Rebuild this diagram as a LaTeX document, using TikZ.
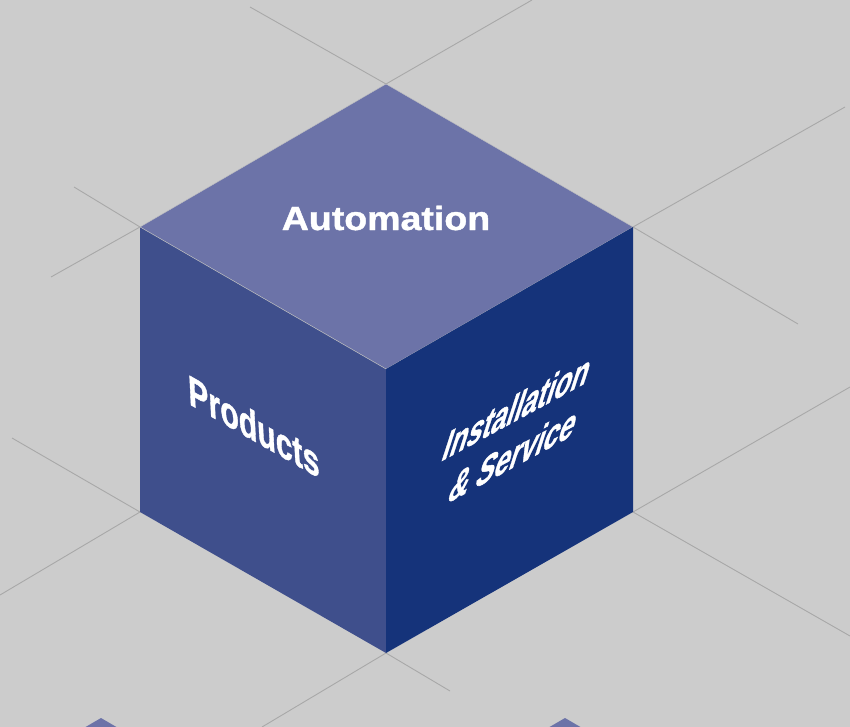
\documentclass[tikz,border=0pt]{standalone}
\usepackage{fontspec}
\setmainfont{Liberation Sans}[BoldFeatures={FakeBold=1.2}]
\definecolor{bg}{HTML}{CCCCCC}
\definecolor{topface}{HTML}{6C73A8}
\definecolor{leftface}{HTML}{3F4F8C}
\definecolor{rightface}{HTML}{15337A}
\definecolor{gridline}{HTML}{A8A8A8}
\begin{document}
\begin{tikzpicture}[x=1pt,y=-1pt,
  grid/.style={draw=gridline,line width=0.9pt},
  face/.style={draw=gridline!70!white,line width=0.4pt},
  facelabel/.style={text=white,inner sep=0pt,outer sep=0pt}]
\useasboundingbox (0,0) rectangle (850,727);
\clip (0,0) rectangle (850,727);
\fill[bg] (0,0) rectangle (850,727);
% cube vertices
\coordinate (T)  at (386,84);
\coordinate (LT) at (140,227);
\coordinate (RT) at (633,227);
\coordinate (C)  at (386,369);
\coordinate (LB) at (140,512);
\coordinate (RB) at (633,512);
\coordinate (B)  at (386,653);
% grid line ends
\coordinate (g1) at (250,7);
\coordinate (g2) at (532,0);
\coordinate (g3) at (74,187);
\coordinate (g4) at (51,277);
\coordinate (g5) at (845,107);
\coordinate (g6) at (798,324);
\coordinate (g7) at (12,438);
\coordinate (g8) at (0,595);
\coordinate (g9) at (850,387);
\coordinate (g10) at (850,636);
\coordinate (g11) at (262,727);
\coordinate (g12) at (450,691);
% grid lines
\draw[grid] (g1) -- (T) -- (g2);
\draw[grid] (g3) -- (LT) -- (g4);
\draw[grid] (g5) -- (RT) -- (g6);
\draw[grid] (g7) -- (LB) -- (g8);
\draw[grid] (g9) -- (RB) -- (g10);
\draw[grid] (g11) -- (B) -- (g12);
% neighbouring cube tops (partly visible)
\coordinate (n1) at (101,718);
\coordinate (n2) at (565,718);
\fill[topface] (n1) -- ++(246,143) -- ++(-246,143) -- ++(-246,-143) -- cycle;
\fill[topface] (n2) -- ++(246,143) -- ++(-246,143) -- ++(-246,-143) -- cycle;
% cube faces
\fill[topface,face] (T) -- (RT) -- (C) -- (LT) -- cycle;
\fill[leftface] (LT) -- (C) -- (B) -- (LB) -- cycle;
\fill[rightface] (C) -- (RT) -- (RB) -- (B) -- cycle;
\draw[face] (LT) -- (C);
% labels
\node[facelabel, anchor=base, xscale=1.12,
  font=\bfseries\fontsize{33.5}{40}\selectfont] (auto) at (386,230) {Automation};
\node[facelabel, anchor=base west, cm={0.72,-0.41,-0.05,1.02,(0,0)},
  font=\bfseries\fontsize{42}{48}\selectfont] (prod) at (189,404) {Products};
\node[facelabel, anchor=base west, cm={0.655,0.355,0.34,1.05,(0,0)},
  font=\bfseries\fontsize{42}{48}\selectfont] (inst) at (440,462) {Installation};
\node[facelabel, anchor=base west, cm={0.655,0.355,0.34,1.05,(0,0)},
  font=\bfseries\fontsize{42}{48}\selectfont] (serv) at (446,504) {\& Service};
\end{tikzpicture}
\end{document}
